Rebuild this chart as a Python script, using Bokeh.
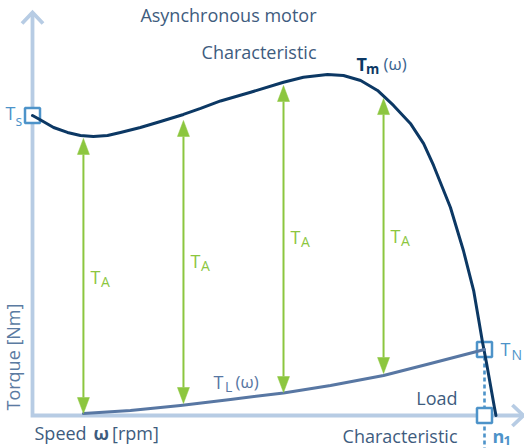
from math import pi, sin, cos
from bokeh.plotting import figure
from bokeh.models import Range1d, Label
from bokeh.embed import file_html
from bokeh.resources import INLINE

# ---------------- data (speed in rpm, torque in Nm) ----------------
motor_speed = [0, 27, 70, 116, 159, 202, 249, 292, 358, 425, 501, 558, 624, 724,
               833, 899, 979, 1032, 1089, 1145, 1198, 1254, 1298, 1331, 1387,
               1430, 1464, 1480, 1493, 1507, 1520, 1533, 1538]
motor_torque = [200, 197, 192, 188.7, 186.7, 186, 186.7, 188.7, 192, 196, 200.7,
                204.7, 209.7, 215.5, 222.2, 225.5, 227.3, 226.7, 223.3, 216.7,
                206.7, 194.7, 181.3, 166.7, 138.7, 110, 83.3, 64.7, 49.3, 34.7,
                20, 5.3, 0]
load_speed = [169, 325, 491, 657, 833, 989, 1165, 1321, 1500]
load_torque = [1.3, 3.3, 6.7, 10.7, 15, 20, 26.7, 34.7, 44]
arrow_speed = [169, 501, 833, 1165]
arrow_top = [184.7, 196.7, 220.0, 211.3]
arrow_bottom = [1.3, 8.0, 15.3, 28.0]
starting_torque = 200     # T_s
rated_torque = 44         # T_N
rated_speed = 1500        # n_1
speed_axis_end = 1629
torque_axis_end = 268.7

# ---------------- layout ----------------
W, H = 524, 448
REF_W, REF_H = 524, 448
X0_PX, Y0_PX = 32, 415
PX_PER_RPM = 0.30133
PX_PER_NM = 1.5
BASELINE_FIX = 0.39   # em; compensates label anchoring


def sx(px):
    return (px - X0_PX) / PX_PER_RPM


def sy(py):
    return (Y0_PX - py) / PX_PER_NM


DX = 1 / PX_PER_RPM
DY = 1 / PX_PER_NM

AXIS = "#b7cce4"
SQUARE = "#4d93c9"
TM = "#0c3864"
TM_W = "#3b6590"
TLC = "#5877a3"
GREEN = "#8cc63f"
TEXT = "#3e5c7e"
TORQUE_TEXT = "#5b7ba2"
FONT = "Open Sans"

p = figure(width=W, height=H,
           x_range=Range1d(sx(0), sx(REF_W)), y_range=Range1d(sy(REF_H), sy(0)),
           output_backend="svg", toolbar_location=None,
           x_axis_location=None, y_axis_location=None, min_border=0)
p.outline_line_color = None
p.grid.visible = False
p.background_fill_color = "white"
p.border_fill_color = "white"

# axes with chevrons
p.line([0, 0, speed_axis_end], [torque_axis_end, 0, 0],
       line_color=AXIS, line_width=3.8, line_join="miter")
p.line([-10.5 * DX, 0, 10.5 * DX],
       [torque_axis_end - 11 * DY, torque_axis_end, torque_axis_end - 11 * DY],
       line_color=AXIS, line_width=3.8, line_join="miter")
p.line([speed_axis_end - 11 * DX, speed_axis_end, speed_axis_end - 11 * DX],
       [10.5 * DY, 0, -10.5 * DY],
       line_color=AXIS, line_width=3.8, line_join="miter")

# dotted line at n1
p.line([rated_speed, rated_speed], [rated_torque, sy(REF_H)],
       line_color=SQUARE, line_width=2.6, line_dash="4 3")

# marker squares
p.scatter([0, rated_speed, rated_speed], [starting_torque, rated_torque, 0],
          marker="square", size=15, fill_color="white",
          line_color=SQUARE, line_width=2.5)

# curves
p.line(motor_speed, motor_torque, line_color=TM, line_width=3,
       line_join="round", line_cap="round")
p.line(load_speed, load_torque, line_color=TLC, line_width=3,
       line_join="round", line_cap="round")

# acceleration torque arrows
HW, HL = 6, 16
p.segment(x0=arrow_speed, y0=[b + HL * DY for b in arrow_bottom],
          x1=arrow_speed, y1=[t - HL * DY for t in arrow_top],
          line_color=GREEN, line_width=2)
heads_x, heads_y = [], []
for x, t, b in zip(arrow_speed, arrow_top, arrow_bottom):
    heads_x.append([x - HW * DX, x + HW * DX, x])
    heads_y.append([t - HL * DY, t - HL * DY, t])
    heads_x.append([x - HW * DX, x + HW * DX, x])
    heads_y.append([b + HL * DY, b + HL * DY, b])
p.patches(heads_x, heads_y, fill_color=GREEN, line_color=GREEN, line_width=0.5)


def label(px, py, text, size, color, style="normal", align="left", angle=0.0):
    shift = BASELINE_FIX * size
    # move the anchor "up" in the text's own frame
    px2 = px - shift * sin(angle)
    py2 = py - shift * cos(angle)
    p.add_layout(Label(x=sx(px2), y=sy(py2), text=text, text_font=FONT,
                       text_font_size=f"{size:.1f}px", text_color=color,
                       text_font_style=style, text_align=align,
                       text_baseline="alphabetic", angle=angle))


label(316, 22, "Asynchronous motor", 18, TEXT, align="right")
label(316, 59, "Characteristic", 18, TEXT, align="right")

label(356, 71, "T", 18, TM, "bold")
label(365.5, 73.5, "m", 13.5, TM, "bold")
label(383, 70, "(ω)", 17, TM_W)

label(5, 120, "T", 18, SQUARE)
label(15, 125, "s", 14, SQUARE)

label(500, 356, "T", 18, SQUARE)
label(511, 359.5, "N", 14, SQUARE)

label(213, 389, "T", 18, TLC)
label(224.5, 391.5, "L", 14, TLC)
label(235, 388, "(ω)", 17, TLC)

label(457, 405, "Load", 18, TEXT, align="right")
label(457, 443, "Characteristic", 18, TEXT, align="right")

label(492, 443, "n", 18, SQUARE, "bold")
label(503, 445.5, "1", 13, SQUARE, "bold")

label(34, 439.5, "Speed", 18, TEXT)
label(93, 439.5, "ω", 18, TEXT, "bold")
label(111.5, 439.5, "[rpm]", 18, TEXT)

label(20, 410, "Torque [Nm]", 18, TORQUE_TEXT, angle=pi / 2)

ta_label_py = [283.3, 267.3, 243.3, 242.3]
for xs, bpy in zip(arrow_speed, ta_label_py):
    ax_px = X0_PX + xs * PX_PER_RPM
    label(ax_px + 7, bpy, "T", 18, GREEN)
    label(ax_px + 17.5, bpy + 3.4, "A", 14, GREEN)

open("out.html", "w").write(file_html(p, INLINE))
